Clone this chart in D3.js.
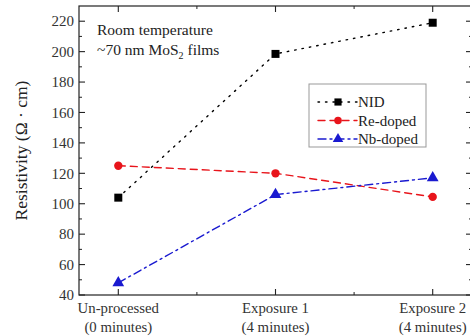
<!DOCTYPE html>
<html>
<head>
<meta charset="utf-8">
<script src="https://cdn.jsdelivr.net/npm/d3@7"></script>
<style>
  body { margin: 0; background: #fff; }
  svg { display: block; font-family: "Liberation Serif", "Times New Roman", serif; }
</style>
</head>
<body>
<div id="container"></div>
<script>
const categories = ['Un-processed|(0 minutes)', 'Exposure 1|(4 minutes)', 'Exposure 2|(4 minutes)'];
const nid = [104, 198.5, 219];
const reDoped = [125, 120, 104.5];
const nbDoped = [48, 106, 117];
const yTicks = [40, 60, 80, 100, 120, 140, 160, 180, 200, 220];

const W = 470, H = 336;
const m = { left: 79, top: 6, right: -2, bottom: 41 };

const svg = d3.select('#container').append('svg')
    .attr('width', W)
    .attr('height', H);

const x = d3.scaleLinear().domain([-0.25, 2.25]).range([m.left, W - m.right]);
const y = d3.scaleLinear().domain([40, 230]).range([H - m.bottom, m.top]);

const series = [
    { name: 'NID', values: nid, color: '#000', dash: '1.5,6', shape: d3.symbolSquare, size: 64 },
    { name: 'Re-doped', values: reDoped, color: '#e8141b', dash: '7,5', shape: d3.symbolCircle, size: 55 },
    { name: 'Nb-doped', values: nbDoped, color: '#1a1ad0', dash: '8,4,2,4', shape: d3.symbolTriangle, size: 60 }
];

// frame
svg.append('rect')
    .attr('x', x(-0.25)).attr('y', y(230))
    .attr('width', x(2.25) - x(-0.25)).attr('height', y(40) - y(230))
    .attr('fill', 'none').attr('stroke', '#222').attr('stroke-width', 1.2);

// y ticks (inside, left + right)
const minorY = d3.range(50, 230, 20);
[x(-0.25), x(2.25)].forEach((px, i) => {
    const dir = i === 0 ? 1 : -1;
    svg.append('g').selectAll('line.maj').data(yTicks).join('line')
        .attr('x1', px).attr('x2', px + dir * 6)
        .attr('y1', d => y(d)).attr('y2', d => y(d))
        .attr('stroke', '#222').attr('stroke-width', 1.1);
    svg.append('g').selectAll('line.min').data(minorY).join('line')
        .attr('x1', px).attr('x2', px + dir * 3)
        .attr('y1', d => y(d)).attr('y2', d => y(d))
        .attr('stroke', '#222').attr('stroke-width', 1);
});

svg.append('g').selectAll('text').data(yTicks).join('text')
    .attr('x', x(-0.25) - 5)
    .attr('y', d => y(d))
    .attr('dy', '0.35em')
    .attr('text-anchor', 'end')
    .attr('font-size', 15)
    .attr('fill', '#333')
    .text(d => d);

// x ticks (inside, bottom + top)
const xMaj = [0, 1, 2];
const xMin = [0.5, 1.5];
[y(40), y(230)].forEach((py, i) => {
    const dir = i === 0 ? -1 : 1;
    svg.append('g').selectAll('line').data(xMaj).join('line')
        .attr('x1', d => x(d)).attr('x2', d => x(d))
        .attr('y1', py).attr('y2', py + dir * 6)
        .attr('stroke', '#222').attr('stroke-width', 1.1);
    svg.append('g').selectAll('line').data(xMin).join('line')
        .attr('x1', d => x(d)).attr('x2', d => x(d))
        .attr('y1', py).attr('y2', py + dir * 3)
        .attr('stroke', '#222').attr('stroke-width', 1);
});

const xl = svg.append('g').selectAll('text').data(categories).join('text')
    .attr('text-anchor', 'middle')
    .attr('font-size', 14.8)
    .attr('fill', '#333');
xl.append('tspan').attr('x', (d, i) => x(i)).attr('y', y(40) + 18).text(d => d.split('|')[0]);
xl.append('tspan').attr('x', (d, i) => x(i)).attr('y', y(40) + 37).text(d => d.split('|')[1]);

// y axis label
svg.append('text')
    .attr('transform', `translate(27 ${(y(40) + y(230)) / 2}) rotate(-90)`)
    .attr('text-anchor', 'middle')
    .attr('font-size', 17.5)
    .attr('fill', '#222')
    .text('Resistivity (Ω · cm)');

// annotation
const ann = svg.append('g').attr('font-size', 15.5).attr('fill', '#222');
ann.append('text').attr('x', 97).attr('y', 35).text('Room temperature');
const t2 = ann.append('text').attr('x', 97).attr('y', 55);
t2.append('tspan').text('~70 nm MoS');
t2.append('tspan').attr('font-size', 10).attr('dy', 4).text('2');
t2.append('tspan').attr('dy', -4).text(' films');

// series
const line = d3.line().x((d, i) => x(i)).y(d => y(d));
series.forEach(s => {
    svg.append('path')
        .attr('d', line(s.values))
        .attr('fill', 'none')
        .attr('stroke', s.color)
        .attr('stroke-width', 1.4)
        .attr('stroke-dasharray', s.dash)
        .attr('stroke-linecap', 'round');
    svg.append('g').selectAll('path').data(s.values).join('path')
        .attr('d', d3.symbol().type(s.shape).size(s.size))
        .attr('transform', (d, i) => `translate(${x(i)} ${y(d)})`)
        .attr('fill', s.color);
});

// legend
const lg = svg.append('g').attr('transform', 'translate(309 84)');
lg.append('rect')
    .attr('width', 117).attr('height', 63)
    .attr('fill', '#fff').attr('stroke', '#999').attr('stroke-width', 1);
series.forEach((s, i) => {
    const cy = 18 + i * 18.5;
    lg.append('line')
        .attr('x1', 9).attr('x2', 48).attr('y1', cy).attr('y2', cy)
        .attr('stroke', s.color).attr('stroke-width', 1.4)
        .attr('stroke-dasharray', s.dash).attr('stroke-linecap', 'round');
    lg.append('path')
        .attr('d', d3.symbol().type(s.shape).size(s.size * 0.8))
        .attr('transform', `translate(29 ${cy})`)
        .attr('fill', s.color);
    lg.append('text')
        .attr('x', 49).attr('y', cy).attr('dy', '0.35em')
        .attr('font-size', 15).attr('fill', '#222')
        .text(s.name);
});
</script>
</body>
</html>
